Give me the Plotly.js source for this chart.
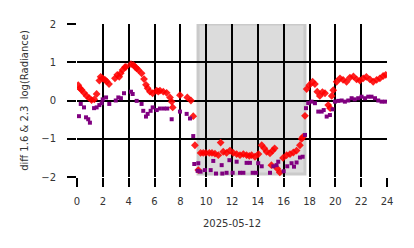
<!DOCTYPE html>
<html>
<head>
<meta charset="utf-8">
<script src="https://cdn.plot.ly/plotly-3.0.1.min.js"></script>
<style>html,body{margin:0;padding:0;background:#fff;}#chart{width:414px;height:248px;}</style>
</head>
<body>
<div id="chart"></div>
<script>
// Hours of day (2025-05-12) and values: diff of 1.6 & 2.3 log(Radiance)
const redHour = [0.10,0.23,0.35,0.54,0.75,0.95,1.13,1.34,1.52,1.73,1.83,1.99,2.17,2.30,2.48,
  2.94,3.12,3.27,3.38,3.53,3.71,3.79,4.18,4.36,4.49,4.62,4.75,5.00,5.19,5.34,5.47,5.65,5.86,
  6.17,6.29,6.42,6.68,6.94,7.20,7.33,7.41,7.97,8.54,8.82,9.00,9.13,9.39,
  9.57,9.77,9.98,10.24,10.45,10.68,10.94,11.12,11.32,11.58,11.84,12.10,12.36,12.62,12.88,13.13,13.34,13.52,13.78,14.05,
  14.30,14.50,14.68,14.94,15.05,15.15,15.30,15.50,15.70,15.95,16.23,16.49,16.75,17.00,17.26,17.39,17.50,
  17.65,17.78,17.98,18.24,18.42,18.60,18.80,19.00,19.20,19.45,19.60,19.72,19.84,20.10,20.36,20.60,20.87,
  21.13,21.40,21.65,21.90,22.16,22.40,22.68,22.93,23.20,23.45,23.70,23.90];
const redVal = [0.40,0.32,0.28,0.20,0.12,0.06,0.01,0.03,0.17,0.52,0.62,0.58,0.54,0.50,0.43,
  0.58,0.67,0.62,0.71,0.80,0.87,0.88,0.95,0.93,0.88,0.84,0.80,0.71,0.56,0.41,0.32,0.23,0.19,
  0.26,0.23,0.26,0.23,0.20,0.08,-0.03,-0.18,0.14,0.08,0.00,-0.41,-1.17,-1.82,
  -1.37,-1.37,-1.37,-1.37,-1.37,-1.39,-1.43,-1.10,-1.34,-1.37,-1.31,-1.37,-1.40,-1.43,-1.40,-1.43,-1.45,-1.43,-1.47,-1.40,
  -1.17,-1.25,-1.34,-1.38,-1.69,-1.31,-1.25,-1.78,-1.88,-1.50,-1.43,-1.40,-1.36,-1.31,-1.17,-1.00,-0.95,
  -0.40,0.30,0.40,0.49,0.43,0.23,0.12,0.22,0.19,-0.12,-0.20,0.12,0.27,0.49,0.58,0.54,0.49,
  0.60,0.63,0.55,0.52,0.58,0.62,0.55,0.49,0.54,0.58,0.64,0.67];

const purpleHour = [0.15,0.29,0.54,0.70,0.87,1.00,1.32,1.52,1.73,1.91,1.99,2.25,2.50,3.00,3.20,3.40,3.64,
  4.18,4.31,4.62,5.00,5.13,5.34,5.47,5.70,5.86,6.17,6.42,6.73,6.99,7.33,7.97,8.49,8.75,9.00,9.08,9.34,9.39,
  9.57,9.90,10.35,10.55,10.76,11.20,11.25,11.58,11.80,12.05,12.36,12.62,12.88,13.13,13.39,13.60,13.85,14.03,
  14.30,14.94,15.20,15.45,15.58,16.00,16.28,16.61,16.80,17.00,17.26,17.47,17.65,
  17.73,17.90,18.16,18.42,18.68,18.94,19.10,19.33,19.58,19.79,19.97,20.23,20.49,20.74,21.00,21.26,21.50,
  21.77,22.03,22.30,22.55,22.80,23.07,23.32,23.58,23.84];
const purpleVal = [-0.41,-0.09,-0.18,-0.44,-0.49,-0.58,-0.20,-0.18,-0.12,-0.07,0.03,0.08,-0.09,0.00,0.08,0.06,0.19,
  0.23,0.17,-0.01,-0.09,-0.27,-0.42,-0.35,-0.27,-0.18,-0.25,-0.21,-0.21,-0.21,-0.49,-0.29,-0.35,-0.47,-0.93,-1.66,-1.84,-1.64,
  -1.86,-1.82,-1.82,-1.58,-1.91,-1.69,-1.91,-1.89,-1.56,-1.89,-1.60,-1.89,-1.89,-1.63,-1.63,-1.89,-1.89,-1.64,
  -1.72,-1.89,-1.72,-1.69,-1.60,-1.85,-1.72,-1.64,-1.73,-1.62,-1.49,-1.47,-0.90,
  -0.20,-0.07,-0.03,-0.07,-0.29,-0.29,-0.25,-0.42,-0.38,-0.23,-0.03,-0.01,0.00,-0.03,0.00,0.06,0.03,
  0.06,0.10,0.06,0.10,0.10,0.06,0.00,-0.03,-0.03];

const xTicks = [0,2,4,6,8,10,12,14,16,18,20,22,24];
const yTicks = [-2,-1,0,1,2];
const nightStart = 9.37, nightEnd = 17.65;

const traces = [
  {x: redHour, y: redVal, type: 'scatter', mode: 'markers', name: '1.6',
   marker: {symbol: 'diamond', size: 6, color: 'rgba(255,0,0,0.88)', line: {width: 0}}},
  {x: purpleHour, y: purpleVal, type: 'scatter', mode: 'markers', name: '2.3',
   marker: {symbol: 'square', size: 4, color: '#800080', line: {width: 0}}}
];

const tf = {family: 'DejaVu Sans, sans-serif', size: 10, color: '#333'};
const layout = {
  width: 414, height: 248,
  margin: {l: 77, r: 27, t: 24, b: 71},
  paper_bgcolor: '#fff', plot_bgcolor: '#fff',
  showlegend: false,
  font: tf,
  xaxis: {range: [0, 24], tickvals: xTicks, ticktext: xTicks.map(String),
    showgrid: true, gridcolor: '#000', gridwidth: 2, zeroline: false, showline: false,
    ticks: 'outside', ticklen: 9, tickwidth: 2, tickcolor: '#000', ticklabelstandoff: 6,
    tickfont: tf,
    title: {text: '2025-05-12', font: tf, standoff: 13}},
  yaxis: {range: [-2, 2], tickvals: yTicks,
    showgrid: true, gridcolor: '#000', gridwidth: 2, zeroline: false, showline: false,
    ticks: 'outside', ticklen: 9, tickwidth: 2, tickcolor: '#000', ticklabelstandoff: 9,
    tickfont: tf,
    title: {text: 'diff 1.6 & 2.3\u00a0 log(Radiance)', font: tf, standoff: 10}},
  shapes: [{type: 'rect', xref: 'x', yref: 'y', x0: nightStart, x1: nightEnd, y0: -1.92, y1: 2,
    fillcolor: '#dcdcdc', line: {color: '#cacaca', width: 3}, layer: 'below'}]
};

Plotly.newPlot('chart', traces, layout, {staticPlot: true, displayModeBar: false});
</script>
</body>
</html>
